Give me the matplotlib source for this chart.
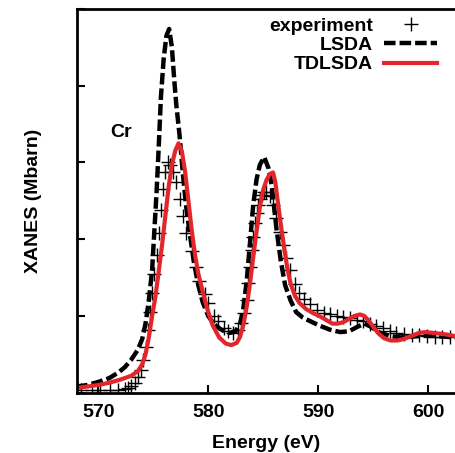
import matplotlib
matplotlib.use("Agg")
import matplotlib.pyplot as plt
from matplotlib import rcParams

rcParams['font.family'] = ['Liberation Sans', 'DejaVu Sans']
rcParams['font.weight'] = 'bold'
rcParams['font.size'] = 14

# experiment (crosses)
exp_E = [568.4, 569.4, 570.2, 571.1, 571.8, 572.4, 572.7, 573.0, 573.3, 573.6,
         573.85, 574.05, 574.3, 574.5, 574.7, 574.9, 575.1, 575.3, 575.5, 575.7,
         575.9, 576.1, 576.3, 576.55, 576.8, 577.1, 577.4, 577.7, 578.0, 578.5,
         578.9, 579.2, 579.7, 580.0, 580.5, 580.9, 581.4, 581.8, 582.3, 582.7,
         583.0, 583.3, 583.5, 583.65, 583.8, 583.95, 584.1, 584.25, 584.4, 584.55,
         584.7, 584.85, 585.05, 585.3, 585.6, 585.9, 586.2, 586.5, 586.8, 587.1,
         587.4, 587.9, 588.3, 588.7, 589.3, 589.9, 590.5, 591.1, 591.7, 592.3,
         592.9, 593.5, 594.1, 594.7, 595.3, 595.9, 596.5, 597.1, 597.8, 598.5,
         599.2, 599.9, 600.6, 601.3, 602.0]
exp_y = [0.03, 0.03, 0.03, 0.03, 0.04, 0.05, 0.06, 0.09, 0.13, 0.2,
         0.3, 0.42, 0.6, 0.82, 1.05, 1.3, 1.55, 1.8, 2.08, 2.38,
         2.65, 2.88, 3.0, 2.97, 2.88, 2.75, 2.52, 2.3, 2.08, 1.85,
         1.64, 1.45, 1.28, 1.17, 1.0, 0.93, 0.84, 0.8, 0.78, 0.82,
         0.91, 1.04, 1.21, 1.43, 1.64, 1.86, 2.03, 2.21, 2.34, 2.45,
         2.53, 2.58, 2.62, 2.62, 2.56, 2.45, 2.28, 2.1, 1.93, 1.76,
         1.6, 1.42, 1.3, 1.22, 1.15, 1.08, 1.04, 1.02, 1.0, 0.98,
         0.97, 0.95, 0.93, 0.9, 0.87, 0.84, 0.8, 0.78, 0.76, 0.75,
         0.75, 0.74, 0.73, 0.73, 0.73]

# LSDA (dashed)
lsda_E = [568.0, 569.0, 570.0, 571.0, 571.8, 572.4, 573.0, 573.6, 574.0, 574.3,
          574.6, 574.9, 575.1, 575.3, 575.5, 575.7, 575.95, 576.2, 576.45, 576.7,
          576.9, 577.1, 577.4, 577.7, 578.0, 578.3, 578.7, 579.1, 579.5, 580.0,
          580.5, 581.1, 581.6, 582.0, 582.5, 582.9, 583.2, 583.5, 583.8, 584.1,
          584.4, 584.7, 585.1, 585.5, 585.8, 586.2, 586.6, 587.0, 587.5, 588.0,
          588.6, 589.3, 590.2, 591.1, 592.0, 592.8, 593.6, 594.2, 594.8, 595.5,
          596.5, 597.5, 598.5, 599.5, 600.5, 601.5, 602.5]
lsda_y = [0.08, 0.1, 0.14, 0.19, 0.26, 0.33, 0.43, 0.56, 0.7, 0.9,
          1.2, 1.6, 2.1, 2.6, 3.2, 3.85, 4.35, 4.65, 4.74, 4.5,
          4.1, 3.75, 3.35, 2.85, 2.42, 2.1, 1.7, 1.4, 1.18, 1.0,
          0.9, 0.83, 0.79, 0.78, 0.8, 0.9, 1.1, 1.45, 1.95, 2.45,
          2.78, 2.97, 3.07, 2.92, 2.68, 2.15, 1.72, 1.4, 1.2, 1.05,
          0.98, 0.93, 0.87, 0.82, 0.79, 0.8, 0.86, 0.9, 0.86, 0.79,
          0.74, 0.72, 0.73, 0.74, 0.74, 0.73, 0.72]

# TDLSDA (red)
td_E = [568.0, 569.0, 570.0, 571.0, 572.0, 573.0, 573.6, 574.0, 574.3, 574.6,
        574.9, 575.2, 575.5, 575.8, 576.1, 576.4, 576.7, 577.0, 577.3, 577.6,
        577.9, 578.2, 578.5, 578.8, 579.1, 579.5, 579.9, 580.4, 581.0, 581.6,
        582.1, 582.6, 582.9, 583.2, 583.5, 583.8, 584.1, 584.4, 584.7, 585.0,
        585.3, 585.6, 585.9, 586.1, 586.3, 586.6, 586.9, 587.2, 587.5, 587.9,
        588.3, 588.9, 589.5, 590.1, 590.7, 591.3, 591.8, 592.3, 592.8, 593.3,
        593.8, 594.2, 594.6, 595.0, 595.5, 596.0, 596.6, 597.2, 597.8, 598.5,
        599.2, 599.8, 600.4, 601.0, 601.6, 602.4]
td_y = [0.06, 0.08, 0.1, 0.13, 0.17, 0.22, 0.28, 0.37, 0.5, 0.72,
        1.0, 1.25, 1.58, 1.92, 2.3, 2.68, 2.97, 3.15, 3.25, 3.15,
        2.88, 2.5, 2.12, 1.8, 1.55, 1.32, 1.1, 0.88, 0.72, 0.64,
        0.62, 0.65, 0.73, 0.88, 1.12, 1.42, 1.77, 2.1, 2.42, 2.64,
        2.77, 2.85, 2.87, 2.75, 2.52, 2.2, 1.9, 1.62, 1.42, 1.26,
        1.17, 1.09, 1.04, 1.0, 0.95, 0.9, 0.9, 0.92, 0.96, 1.0,
        1.02, 1.0, 0.94, 0.86, 0.77, 0.71, 0.68, 0.68, 0.7, 0.74,
        0.78, 0.79, 0.78, 0.77, 0.76, 0.74]

xticks = [570, 580, 590, 600]
yticks = [0, 1, 2, 3, 4, 5]

fig = plt.figure(figsize=(4.55, 4.53), dpi=100)
ax = fig.add_axes([76.7 / 455, 60.3 / 453, 1 - 76.7 / 455, (392.7 - 9) / 453])

ax.plot(exp_E, exp_y, ls='none', marker='+', ms=9.5, mew=1.0, color='black', label='experiment')
ax.plot(lsda_E, lsda_y, color='black', lw=3.2, dashes=(2.6, 0.9), dash_capstyle='butt', label='LSDA')
ax.plot(td_E, td_y, color='#e3262b', lw=3.0, label='TDLSDA')

ax.text(571.1, 3.39, 'Cr', ha='left', va='center', fontsize=14, fontweight='bold')

ax.set_xlim(568.04, 602.45)
ax.set_ylim(0, 5)
ax.set_xticks(xticks)
ax.set_yticks(yticks)
ax.set_yticklabels([])
ax.tick_params(direction='in', length=6, width=1.5, top=False, right=False, pad=8)
for s in ['left', 'bottom', 'top']:
    ax.spines[s].set_linewidth(2.0)
ax.spines['right'].set_visible(False)

ax.set_xlabel('Energy (eV)', fontweight='bold', labelpad=10)
ax.set_ylabel('XANES (Mbarn)', fontweight='bold')
ax.yaxis.set_label_coords(-0.092, 0.501)

ax.legend(loc='upper right', bbox_to_anchor=(0.960, 0.9625), bbox_transform=fig.transFigure,
          markerfirst=False, frameon=False, handlelength=2.7, handletextpad=0.6,
          labelspacing=0.09, borderaxespad=0, borderpad=0)

fig.savefig('out.png', dpi=100)
